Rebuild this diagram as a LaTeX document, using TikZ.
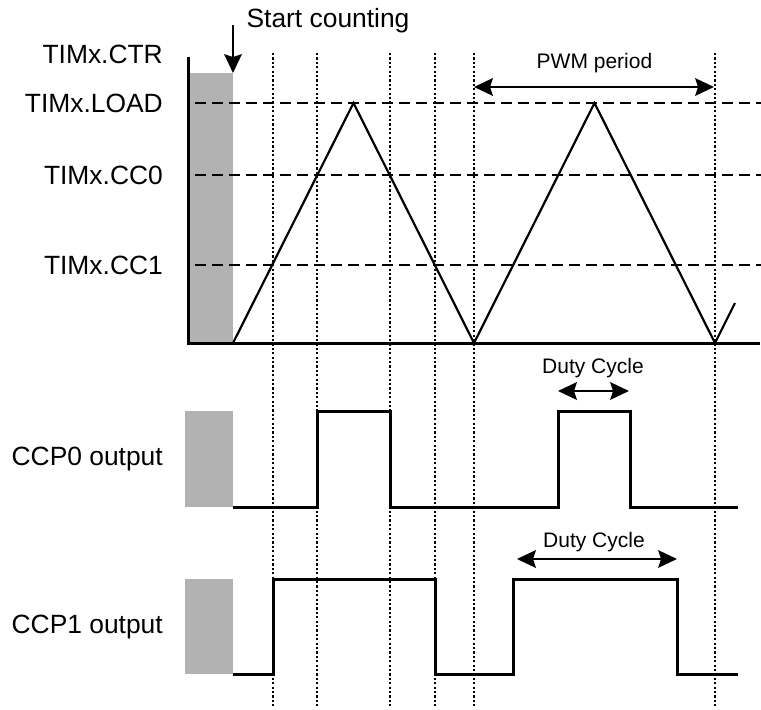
\documentclass[tikz,border=0pt]{standalone}
\usepackage{fontspec}
\setmainfont{Liberation Sans}
\usetikzlibrary{arrows.meta}

\tikzset{
  bigtip/.tip={Stealth[length=19pt,width=18pt,inset=3pt,line width=0pt]}
}

\begin{document}
\begin{tikzpicture}[x=1pt, y=-1pt,
    lbl/.style={anchor=base east, inner sep=0pt, font=\fontsize{26.4}{30}\selectfont},
    note/.style={anchor=base, inner sep=0pt, font=\fontsize{21}{25}\selectfont},
    level/.style={line width=2pt, dash pattern=on 11pt off 6pt},
    guide/.style={line width=2.2pt, dash pattern=on 2.2pt off 2.2pt},
    wave/.style={line width=3pt, line join=miter},
    dimarrow/.style={line width=2pt, bigtip-bigtip}]

  \useasboundingbox (0,0) rectangle (761,710);

  % Gray reset areas
  \fill[black!30] (188,73) rectangle (233,343);
  \fill[black!30] (185,411) rectangle (233,507);
  \fill[black!30] (185,579) rectangle (233,674);

  % Compare levels
  \foreach \y in {103, 175, 265} {
    \draw[level] (195,\y) -- (761,\y);
  }

  % Vertical guides at the compare matches
  \foreach \x in {273, 317, 390, 435, 474, 715} {
    \draw[guide] (\x,53) -- (\x,707);
  }

  % Counter axis
  \draw[line width=3pt] (188,57) -- (188,343) -- (760,343);

  % Up-down counter
  \draw[line width=2.2pt, line join=miter]
    (233,343) -- (353.5,103) -- (474,343) -- (594.5,103) -- (715,343) -- (735,303);

  % CCP outputs
  \draw[wave] (233,507) -- (317,507) -- (317,411) -- (390,411) -- (390,507)
    -- (558,507) -- (558,411) -- (630,411) -- (630,507) -- (738,507);
  \draw[wave] (233,674) -- (273,674) -- (273,579) -- (435,579) -- (435,674)
    -- (513,674) -- (513,579) -- (677,579) -- (677,674) -- (738,674);

  % Left labels
  \node[lbl] (ctr)  at (163,63)  {TIMx.CTR};
  \node[lbl] (load) at (163,112) {TIMx.LOAD};
  \node[lbl] (cc0)  at (163,184) {TIMx.CC0};
  \node[lbl] (cc1)  at (163,274) {TIMx.CC1};
  \node[lbl] (ccp0) at (163,465) {CCP0 output};
  \node[lbl] (ccp1) at (163,633) {CCP1 output};

  % Start marker
  \node[lbl, anchor=base] (start) at (328,27) {Start counting};
  \coordinate (s0) at (233,25);
  \coordinate (s1) at (233,73);
  \draw[line width=2pt, -bigtip] (s0) -- (s1);

  % Period and duty cycle
  \node[note] (period) at (594.5,68) {PWM period};
  \coordinate (p0) at (474,87);
  \coordinate (p1) at (714,87);
  \draw[dimarrow] (p0) -- (p1);

  \node[note] (duty0) at (593,373) {Duty Cycle};
  \coordinate (d0) at (558,391);
  \coordinate (d1) at (629,391);
  \draw[dimarrow] (d0) -- (d1);

  \node[note] (duty1) at (594,547) {Duty Cycle};
  \coordinate (e0) at (517,559);
  \coordinate (e1) at (677,559);
  \draw[dimarrow] (e0) -- (e1);

\end{tikzpicture}
\end{document}
